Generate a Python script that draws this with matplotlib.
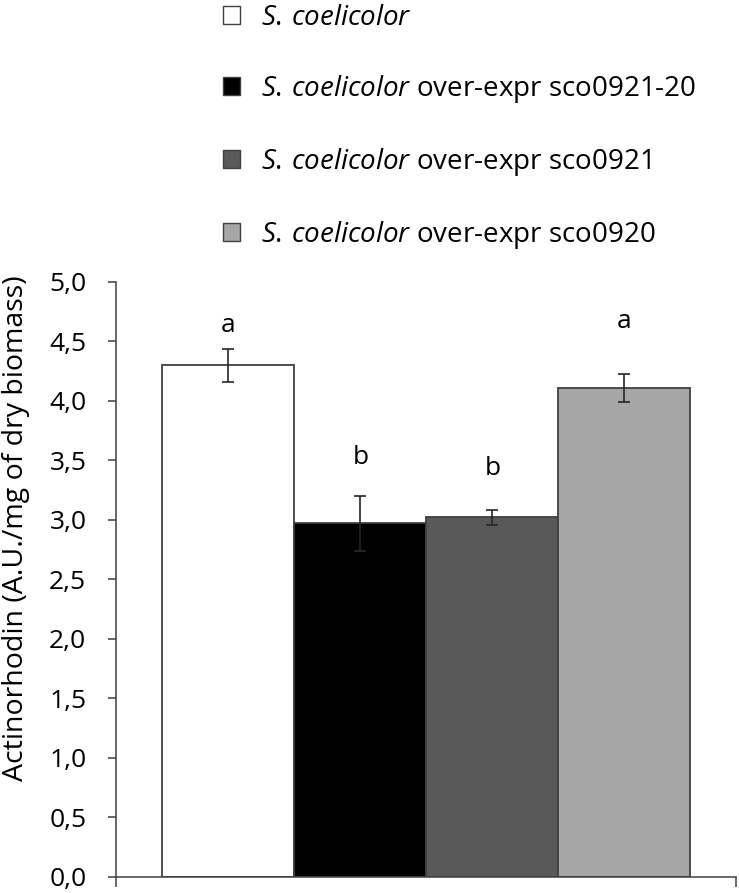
import matplotlib
matplotlib.use("Agg")
import matplotlib.pyplot as plt
from matplotlib.patches import Patch

plt.rcParams["font.family"] = ["Open Sans", "DejaVu Sans"]
plt.rcParams["mathtext.fontset"] = "custom"
plt.rcParams["mathtext.it"] = "Open Sans:italic"
plt.rcParams["mathtext.rm"] = "Open Sans"

# --- data ---
species = r"$\mathit{S.\,coelicolor}$"
strains = [
    species,
    species + " over-expr sco0921-20",
    species + " over-expr sco0921",
    species + " over-expr sco0920",
]
values = [4.30, 2.97, 3.02, 4.11]
errors = [0.14, 0.23, 0.06, 0.12]
letters = ["a", "b", "b", "a"]
letter_y = [4.63, 3.52, 3.43, 4.67]
colors = ["#ffffff", "#000000", "#595959", "#a6a6a6"]
yticks = [0.0, 0.5, 1.0, 1.5, 2.0, 2.5, 3.0, 3.5, 4.0, 4.5, 5.0]

edge = "#404040"
fig = plt.figure(figsize=(7.39, 8.93), dpi=100)
ax = fig.add_axes([0.1563, 0.0183, 0.8397, 0.666])

xs = list(range(len(values)))
ax.bar(xs, values, width=1.0, color=colors, edgecolor=edge, linewidth=1.3)
ax.errorbar(xs, values, yerr=errors, fmt="none", ecolor="#262626",
            elinewidth=1.2, capsize=4, capthick=1.2)
for x, t, y in zip(xs, letters, letter_y):
    ax.text(x, y, t, ha="center", va="center", fontsize=19)

xlim = (-0.855, 3.845)
ax.set_xlim(*xlim)
ax.set_ylim(0, 5)
ax.set_yticks(yticks)
ax.set_yticklabels([f"{v:.1f}".replace(".", ",") for v in yticks], fontsize=19)
ax.set_xticks(list(xlim))
ax.set_xticklabels(["", ""])
ax.tick_params(axis="y", direction="out", length=6, width=1.1, color=edge, pad=15)
ax.tick_params(axis="x", direction="out", length=7.5, width=1.1, color=edge)
for s in ["top", "right"]:
    ax.spines[s].set_visible(False)
for s in ["left", "bottom"]:
    ax.spines[s].set_color(edge)
    ax.spines[s].set_linewidth(1.1)

fig.text(0.022, 0.409, "Actinorhodin (A.U./mg of dry biomass)", rotation=90,
         ha="center", va="center", fontsize=20.5)

handles = [Patch(facecolor=c, edgecolor=edge, linewidth=1.0) for c in colors]
fig.legend(handles, strains, loc="upper left", bbox_to_anchor=(0.300, 0.997),
           frameon=False, fontsize=20, handlelength=0.6, handleheight=0.6,
           handletextpad=0.75, labelspacing=1.47, borderpad=0.05, borderaxespad=0)

fig.savefig("out.png", dpi=100)
